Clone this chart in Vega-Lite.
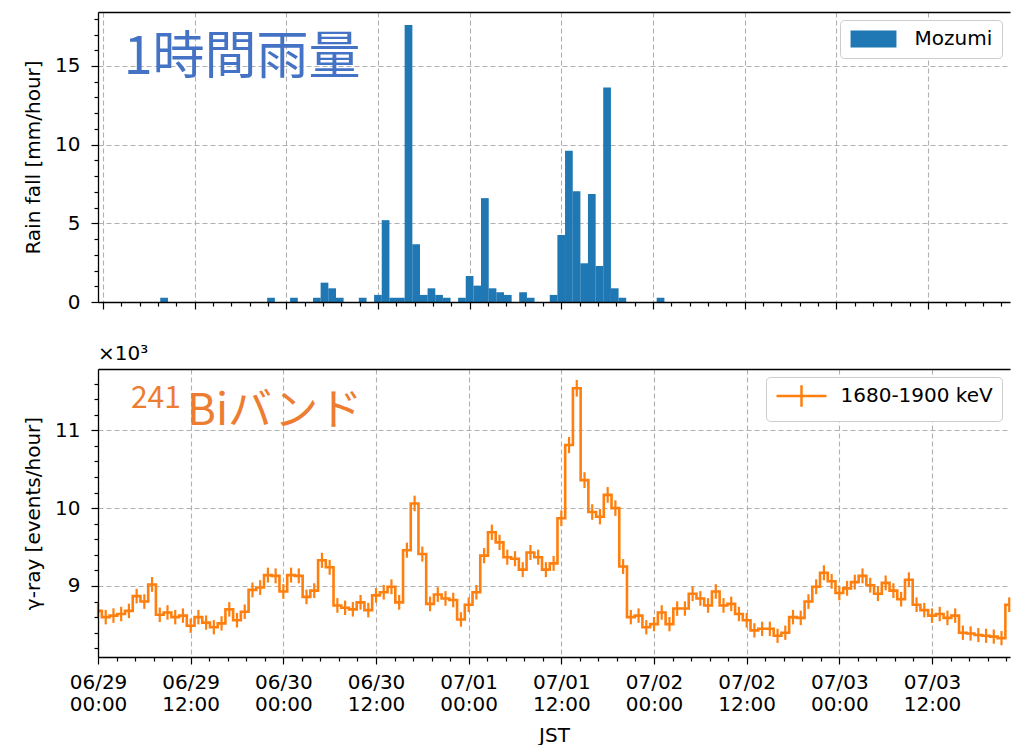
{
  "$schema": "https://vega.github.io/schema/vega-lite/v6.json",
  "background": "white",
  "padding": {"left": 23, "top": 12, "right": 0, "bottom": 0},
  "bounds": "flush",
  "spacing": 67,
  "config": {
    "font": "DejaVu Sans",
    "view": {"stroke": null},
    "axis": {
      "labelFont": "DejaVu Sans", "labelFontSize": 20, "labelColor": "#000000",
      "titleFont": "DejaVu Sans", "titleFontSize": 20, "titleFontWeight": "normal", "titleColor": "#000000",
      "domainColor": "#000000", "domainWidth": 1.3, "tickColor": "#000000", "tickWidth": 1.2, "tickSize": 7,
      "gridColor": "#b0b0b0", "gridDash": [5, 3], "gridWidth": 1.1,
      "labelFlush": false, "labelOverlap": false
    }
  },
  "resolve": {"scale": {"color": "independent"}, "legend": {"color": "independent"}},
  "datasets": {
    "rain": [
      {"time": "2018-06-29T08:00:00Z", "rain": 0.27},
      {"time": "2018-06-29T22:00:00Z", "rain": 0.27},
      {"time": "2018-06-30T01:00:00Z", "rain": 0.27},
      {"time": "2018-06-30T04:00:00Z", "rain": 0.27},
      {"time": "2018-06-30T05:00:00Z", "rain": 1.23},
      {"time": "2018-06-30T06:00:00Z", "rain": 0.87},
      {"time": "2018-06-30T07:00:00Z", "rain": 0.27},
      {"time": "2018-06-30T10:00:00Z", "rain": 0.27},
      {"time": "2018-06-30T12:00:00Z", "rain": 0.45},
      {"time": "2018-06-30T13:00:00Z", "rain": 5.2},
      {"time": "2018-06-30T14:00:00Z", "rain": 0.27},
      {"time": "2018-06-30T15:00:00Z", "rain": 0.27},
      {"time": "2018-06-30T16:00:00Z", "rain": 17.6},
      {"time": "2018-06-30T17:00:00Z", "rain": 3.67},
      {"time": "2018-06-30T18:00:00Z", "rain": 0.45},
      {"time": "2018-06-30T19:00:00Z", "rain": 0.87},
      {"time": "2018-06-30T20:00:00Z", "rain": 0.45},
      {"time": "2018-06-30T21:00:00Z", "rain": 0.27},
      {"time": "2018-06-30T23:00:00Z", "rain": 0.27},
      {"time": "2018-07-01T00:00:00Z", "rain": 1.65},
      {"time": "2018-07-01T01:00:00Z", "rain": 1.04},
      {"time": "2018-07-01T02:00:00Z", "rain": 6.6},
      {"time": "2018-07-01T03:00:00Z", "rain": 0.87},
      {"time": "2018-07-01T04:00:00Z", "rain": 0.62},
      {"time": "2018-07-01T05:00:00Z", "rain": 0.45},
      {"time": "2018-07-01T07:00:00Z", "rain": 0.62},
      {"time": "2018-07-01T08:00:00Z", "rain": 0.27},
      {"time": "2018-07-01T11:00:00Z", "rain": 0.45},
      {"time": "2018-07-01T12:00:00Z", "rain": 4.26},
      {"time": "2018-07-01T13:00:00Z", "rain": 9.62},
      {"time": "2018-07-01T14:00:00Z", "rain": 7.04},
      {"time": "2018-07-01T15:00:00Z", "rain": 2.46},
      {"time": "2018-07-01T16:00:00Z", "rain": 6.87},
      {"time": "2018-07-01T17:00:00Z", "rain": 2.29},
      {"time": "2018-07-01T18:00:00Z", "rain": 13.63},
      {"time": "2018-07-01T19:00:00Z", "rain": 0.87},
      {"time": "2018-07-01T20:00:00Z", "rain": 0.27},
      {"time": "2018-07-02T01:00:00Z", "rain": 0.27}
    ],
    "gamma": [
      {"time": "2018-06-29T00:00:00Z", "rate": 8680, "err": 93},
      {"time": "2018-06-29T01:00:00Z", "rate": 8600, "err": 93},
      {"time": "2018-06-29T02:00:00Z", "rate": 8620, "err": 93},
      {"time": "2018-06-29T03:00:00Z", "rate": 8640, "err": 93},
      {"time": "2018-06-29T04:00:00Z", "rate": 8680, "err": 93},
      {"time": "2018-06-29T05:00:00Z", "rate": 8870, "err": 94},
      {"time": "2018-06-29T06:00:00Z", "rate": 8800, "err": 94},
      {"time": "2018-06-29T07:00:00Z", "rate": 9020, "err": 95},
      {"time": "2018-06-29T08:00:00Z", "rate": 8630, "err": 93},
      {"time": "2018-06-29T09:00:00Z", "rate": 8660, "err": 93},
      {"time": "2018-06-29T10:00:00Z", "rate": 8600, "err": 93},
      {"time": "2018-06-29T11:00:00Z", "rate": 8620, "err": 93},
      {"time": "2018-06-29T12:00:00Z", "rate": 8490, "err": 92},
      {"time": "2018-06-29T13:00:00Z", "rate": 8600, "err": 93},
      {"time": "2018-06-29T14:00:00Z", "rate": 8530, "err": 92},
      {"time": "2018-06-29T15:00:00Z", "rate": 8470, "err": 92},
      {"time": "2018-06-29T16:00:00Z", "rate": 8520, "err": 92},
      {"time": "2018-06-29T17:00:00Z", "rate": 8700, "err": 93},
      {"time": "2018-06-29T18:00:00Z", "rate": 8560, "err": 93},
      {"time": "2018-06-29T19:00:00Z", "rate": 8670, "err": 93},
      {"time": "2018-06-29T20:00:00Z", "rate": 8950, "err": 95},
      {"time": "2018-06-29T21:00:00Z", "rate": 8980, "err": 95},
      {"time": "2018-06-29T22:00:00Z", "rate": 9140, "err": 96},
      {"time": "2018-06-29T23:00:00Z", "rate": 9130, "err": 96},
      {"time": "2018-06-30T00:00:00Z", "rate": 8930, "err": 94},
      {"time": "2018-06-30T01:00:00Z", "rate": 9140, "err": 96},
      {"time": "2018-06-30T02:00:00Z", "rate": 9130, "err": 96},
      {"time": "2018-06-30T03:00:00Z", "rate": 8860, "err": 94},
      {"time": "2018-06-30T04:00:00Z", "rate": 8940, "err": 95},
      {"time": "2018-06-30T05:00:00Z", "rate": 9330, "err": 97},
      {"time": "2018-06-30T06:00:00Z", "rate": 9240, "err": 96},
      {"time": "2018-06-30T07:00:00Z", "rate": 8750, "err": 94},
      {"time": "2018-06-30T08:00:00Z", "rate": 8720, "err": 93},
      {"time": "2018-06-30T09:00:00Z", "rate": 8700, "err": 93},
      {"time": "2018-06-30T10:00:00Z", "rate": 8790, "err": 94},
      {"time": "2018-06-30T11:00:00Z", "rate": 8690, "err": 93},
      {"time": "2018-06-30T12:00:00Z", "rate": 8880, "err": 94},
      {"time": "2018-06-30T13:00:00Z", "rate": 8920, "err": 94},
      {"time": "2018-06-30T14:00:00Z", "rate": 8990, "err": 95},
      {"time": "2018-06-30T15:00:00Z", "rate": 8790, "err": 94},
      {"time": "2018-06-30T16:00:00Z", "rate": 9460, "err": 97},
      {"time": "2018-06-30T17:00:00Z", "rate": 10060, "err": 100},
      {"time": "2018-06-30T18:00:00Z", "rate": 9410, "err": 97},
      {"time": "2018-06-30T19:00:00Z", "rate": 8770, "err": 94},
      {"time": "2018-06-30T20:00:00Z", "rate": 8890, "err": 94},
      {"time": "2018-06-30T21:00:00Z", "rate": 8840, "err": 94},
      {"time": "2018-06-30T22:00:00Z", "rate": 8820, "err": 94},
      {"time": "2018-06-30T23:00:00Z", "rate": 8570, "err": 93},
      {"time": "2018-07-01T00:00:00Z", "rate": 8760, "err": 94},
      {"time": "2018-07-01T01:00:00Z", "rate": 8920, "err": 94},
      {"time": "2018-07-01T02:00:00Z", "rate": 9390, "err": 97},
      {"time": "2018-07-01T03:00:00Z", "rate": 9690, "err": 98},
      {"time": "2018-07-01T04:00:00Z", "rate": 9560, "err": 98},
      {"time": "2018-07-01T05:00:00Z", "rate": 9370, "err": 97},
      {"time": "2018-07-01T06:00:00Z", "rate": 9350, "err": 97},
      {"time": "2018-07-01T07:00:00Z", "rate": 9210, "err": 96},
      {"time": "2018-07-01T08:00:00Z", "rate": 9430, "err": 97},
      {"time": "2018-07-01T09:00:00Z", "rate": 9370, "err": 97},
      {"time": "2018-07-01T10:00:00Z", "rate": 9210, "err": 96},
      {"time": "2018-07-01T11:00:00Z", "rate": 9290, "err": 96},
      {"time": "2018-07-01T12:00:00Z", "rate": 9870, "err": 99},
      {"time": "2018-07-01T13:00:00Z", "rate": 10810, "err": 104},
      {"time": "2018-07-01T14:00:00Z", "rate": 11540, "err": 107},
      {"time": "2018-07-01T15:00:00Z", "rate": 10360, "err": 102},
      {"time": "2018-07-01T16:00:00Z", "rate": 9950, "err": 100},
      {"time": "2018-07-01T17:00:00Z", "rate": 9890, "err": 99},
      {"time": "2018-07-01T18:00:00Z", "rate": 10170, "err": 101},
      {"time": "2018-07-01T19:00:00Z", "rate": 10000, "err": 100},
      {"time": "2018-07-01T20:00:00Z", "rate": 9250, "err": 96},
      {"time": "2018-07-01T21:00:00Z", "rate": 8600, "err": 93},
      {"time": "2018-07-01T22:00:00Z", "rate": 8620, "err": 93},
      {"time": "2018-07-01T23:00:00Z", "rate": 8470, "err": 92},
      {"time": "2018-07-02T00:00:00Z", "rate": 8510, "err": 92},
      {"time": "2018-07-02T01:00:00Z", "rate": 8660, "err": 93},
      {"time": "2018-07-02T02:00:00Z", "rate": 8510, "err": 92},
      {"time": "2018-07-02T03:00:00Z", "rate": 8710, "err": 93},
      {"time": "2018-07-02T04:00:00Z", "rate": 8710, "err": 93},
      {"time": "2018-07-02T05:00:00Z", "rate": 8900, "err": 94},
      {"time": "2018-07-02T06:00:00Z", "rate": 8840, "err": 94},
      {"time": "2018-07-02T07:00:00Z", "rate": 8750, "err": 94},
      {"time": "2018-07-02T08:00:00Z", "rate": 8930, "err": 94},
      {"time": "2018-07-02T09:00:00Z", "rate": 8750, "err": 94},
      {"time": "2018-07-02T10:00:00Z", "rate": 8770, "err": 94},
      {"time": "2018-07-02T11:00:00Z", "rate": 8640, "err": 93},
      {"time": "2018-07-02T12:00:00Z", "rate": 8560, "err": 93},
      {"time": "2018-07-02T13:00:00Z", "rate": 8430, "err": 92},
      {"time": "2018-07-02T14:00:00Z", "rate": 8450, "err": 92},
      {"time": "2018-07-02T15:00:00Z", "rate": 8450, "err": 92},
      {"time": "2018-07-02T16:00:00Z", "rate": 8360, "err": 91},
      {"time": "2018-07-02T17:00:00Z", "rate": 8400, "err": 92},
      {"time": "2018-07-02T18:00:00Z", "rate": 8600, "err": 93},
      {"time": "2018-07-02T19:00:00Z", "rate": 8590, "err": 93},
      {"time": "2018-07-02T20:00:00Z", "rate": 8800, "err": 94},
      {"time": "2018-07-02T21:00:00Z", "rate": 8990, "err": 95},
      {"time": "2018-07-02T22:00:00Z", "rate": 9170, "err": 96},
      {"time": "2018-07-02T23:00:00Z", "rate": 9060, "err": 95},
      {"time": "2018-07-03T00:00:00Z", "rate": 8910, "err": 94},
      {"time": "2018-07-03T01:00:00Z", "rate": 8970, "err": 95},
      {"time": "2018-07-03T02:00:00Z", "rate": 9050, "err": 95},
      {"time": "2018-07-03T03:00:00Z", "rate": 9130, "err": 96},
      {"time": "2018-07-03T04:00:00Z", "rate": 9010, "err": 95},
      {"time": "2018-07-03T05:00:00Z", "rate": 8900, "err": 94},
      {"time": "2018-07-03T06:00:00Z", "rate": 9040, "err": 95},
      {"time": "2018-07-03T07:00:00Z", "rate": 8940, "err": 95},
      {"time": "2018-07-03T08:00:00Z", "rate": 8830, "err": 94},
      {"time": "2018-07-03T09:00:00Z", "rate": 9080, "err": 95},
      {"time": "2018-07-03T10:00:00Z", "rate": 8760, "err": 94},
      {"time": "2018-07-03T11:00:00Z", "rate": 8690, "err": 93},
      {"time": "2018-07-03T12:00:00Z", "rate": 8620, "err": 93},
      {"time": "2018-07-03T13:00:00Z", "rate": 8640, "err": 93},
      {"time": "2018-07-03T14:00:00Z", "rate": 8590, "err": 93},
      {"time": "2018-07-03T15:00:00Z", "rate": 8620, "err": 93},
      {"time": "2018-07-03T16:00:00Z", "rate": 8400, "err": 92},
      {"time": "2018-07-03T17:00:00Z", "rate": 8390, "err": 92},
      {"time": "2018-07-03T18:00:00Z", "rate": 8370, "err": 91},
      {"time": "2018-07-03T19:00:00Z", "rate": 8360, "err": 91},
      {"time": "2018-07-03T20:00:00Z", "rate": 8350, "err": 91},
      {"time": "2018-07-03T21:00:00Z", "rate": 8330, "err": 91},
      {"time": "2018-07-03T22:00:00Z", "rate": 8760, "err": 94}
    ]
  },
  "vconcat": [
    {
      "width": 912,
      "height": 290,
      "resolve": {"axis": {"x": "independent", "y": "independent"}},
      "layer": [
        {
          "data": {"name": "rain"},
          "mark": {"type": "bar", "width": 7.72, "clip": true},
          "encoding": {
            "x": {"field": "time", "type": "temporal",
              "scale": {"type": "utc", "domain": [{"year": 2018, "month": 6, "date": 29, "hours": 0, "utc": true}, {"year": 2018, "month": 7, "date": 3, "hours": 22, "minutes": 6, "utc": true}]},
              "axis": {"orient": "bottom", "values": [1530230400000, 1530273600000, 1530316800000, 1530360000000, 1530403200000, 1530446400000, 1530489600000, 1530532800000, 1530576000000, 1530619200000], "labels": false, "title": null, "grid": true, "domain": false, "tickSize": 7}},
            "y": {"field": "rain", "type": "quantitative",
              "scale": {"domain": [0, 18.43], "nice": false, "zero": false},
              "axis": {"orient": "left", "values": [0, 5, 10, 15], "title": "Rain fall [mm/hour]", "grid": true, "domain": false, "tickSize": 7, "labelPadding": 11, "titlePadding": 12, "minExtent": 43, "maxExtent": 43}},
            "color": {"datum": "Mozumi", "type": "nominal", "scale": {"range": ["#1f77b4"]},
              "legend": {"title": null, "orient": "top-right", "offset": 8, "padding": 9, "fillColor": "white", "strokeColor": "#cccccc", "cornerRadius": 4, "labelFont": "DejaVu Sans", "labelFontSize": 20, "labelColor": "#000000", "symbolType": "M-2.7,-1H2.7V1H-2.7Z", "symbolSize": 289, "symbolStrokeWidth": 0, "symbolOffset": 14.5, "labelOffset": 31}}
          }
        },
        {
          "data": {"values": [{}]},
          "mark": {"type": "text", "text": "1時間雨量", "font": "Noto Sans CJK JP", "fontSize": 52, "color": "#4472C4", "align": "left", "baseline": "alphabetic"},
          "encoding": {
            "x": {"datum": {"year": 2018, "month": 6, "date": 29, "hours": 2, "minutes": 43, "utc": true}, "type": "temporal",
              "scale": {"type": "utc", "domain": [{"year": 2018, "month": 6, "date": 29, "hours": 0, "utc": true}, {"year": 2018, "month": 7, "date": 3, "hours": 22, "minutes": 6, "utc": true}]},
              "axis": {"orient": "bottom", "values": [1530239040000, 1530247680000, 1530256320000, 1530264960000, 1530282240000, 1530290880000, 1530299520000, 1530308160000, 1530325440000, 1530334080000, 1530342720000, 1530351360000, 1530368640000, 1530377280000, 1530385920000, 1530394560000, 1530411840000, 1530420480000, 1530429120000, 1530437760000, 1530455040000, 1530463680000, 1530472320000, 1530480960000, 1530498240000, 1530506880000, 1530515520000, 1530524160000, 1530541440000, 1530550080000, 1530558720000, 1530567360000, 1530584640000, 1530593280000, 1530601920000, 1530610560000, 1530627840000, 1530636480000, 1530645120000, 1530653760000], "tickSize": 4, "labels": false, "grid": false, "domain": true, "title": null, "zindex": 1}},
            "y": {"datum": 14.49, "type": "quantitative",
              "scale": {"domain": [0, 18.43], "nice": false, "zero": false},
              "axis": {"orient": "left", "values": [1, 2, 3, 4, 6, 7, 8, 9, 11, 12, 13, 14, 16, 17, 18], "tickSize": 4, "labels": false, "grid": false, "domain": true, "title": null, "zindex": 1}}
          }
        },
        {
          "data": {"values": [{}]},
          "mark": {"type": "rule", "opacity": 0},
          "encoding": {
            "x": {"datum": {"year": 2018, "month": 6, "date": 29, "hours": 0, "utc": true}, "type": "temporal",
              "scale": {"type": "utc", "domain": [{"year": 2018, "month": 6, "date": 29, "hours": 0, "utc": true}, {"year": 2018, "month": 7, "date": 3, "hours": 22, "minutes": 6, "utc": true}]},
              "axis": {"orient": "top", "ticks": false, "labels": false, "grid": false, "domain": true, "title": null, "zindex": 1}}
          }
        }
      ]
    },
    {
      "width": 912,
      "height": 288,
      "title": {"text": "×10³", "anchor": "start", "frame": "group", "fontSize": 20, "fontWeight": "normal", "font": "DejaVu Sans", "color": "#000000", "offset": 5},
      "resolve": {"axis": {"x": "independent", "y": "independent"}},
      "layer": [
        {
          "data": {"name": "gamma"},
          "mark": {"type": "line", "interpolate": "step", "strokeWidth": 2.6, "clip": true},
          "encoding": {
            "x": {"field": "time", "type": "temporal",
              "scale": {"type": "utc", "domain": [{"year": 2018, "month": 6, "date": 29, "hours": 0, "utc": true}, {"year": 2018, "month": 7, "date": 3, "hours": 22, "minutes": 6, "utc": true}]},
              "axis": {"orient": "bottom", "values": [1530230400000, 1530273600000, 1530316800000, 1530360000000, 1530403200000, 1530446400000, 1530489600000, 1530532800000, 1530576000000, 1530619200000], "labelExpr": "[utcFormat(datum.value, '%m/%d'), utcFormat(datum.value, '%H:%M')]", "labelLineHeight": 22, "labelPadding": 8, "title": "JST", "titlePadding": 11, "grid": true, "domain": false, "tickSize": 7}},
            "y": {"field": "rate", "type": "quantitative",
              "scale": {"domain": [8088, 11787], "nice": false, "zero": false},
              "axis": {"orient": "left", "values": [9000, 10000, 11000], "labelExpr": "format(datum.value / 1000, 'd')", "title": "γ-ray [events/hour]", "grid": true, "domain": false, "tickSize": 7, "labelPadding": 11, "titlePadding": 12, "minExtent": 43, "maxExtent": 43}},
            "color": {"datum": "1680-1900 keV", "type": "nominal", "scale": {"range": ["#ff7f0e"]},
              "legend": {"title": null, "orient": "top-right", "offset": 8, "padding": 9, "fillColor": "white", "strokeColor": "#cccccc", "cornerRadius": 4, "labelFont": "DejaVu Sans", "labelFontSize": 20, "labelColor": "#000000", "symbolType": "M-2.94,0H2.94M0,-1.27V1.27", "symbolSize": 289, "symbolStrokeWidth": 2.5, "symbolStrokeColor": "#ff7f0e", "symbolFillColor": "transparent", "symbolOffset": 16.5, "labelOffset": 29}}
          }
        },
        {
          "data": {"name": "gamma"},
          "mark": {"type": "errorbar", "ticks": false, "color": "#ff7f0e", "thickness": 2.2},
          "encoding": {
            "x": {"field": "time", "type": "temporal",
              "scale": {"type": "utc", "domain": [{"year": 2018, "month": 6, "date": 29, "hours": 0, "utc": true}, {"year": 2018, "month": 7, "date": 3, "hours": 22, "minutes": 6, "utc": true}]},
              "axis": null},
            "y": {"field": "rate", "type": "quantitative",
              "scale": {"domain": [8088, 11787], "nice": false, "zero": false},
              "axis": null},
            "yError": {"field": "err"}
          }
        },
        {
          "data": {"values": [{}]},
          "mark": {"type": "text", "text": "241", "font": "Noto Sans CJK JP", "fontSize": 30, "color": "#ED7D31", "align": "left", "baseline": "alphabetic"},
          "encoding": {
            "x": {"datum": {"year": 2018, "month": 6, "date": 29, "hours": 4, "minutes": 16, "utc": true}, "type": "temporal",
              "scale": {"type": "utc", "domain": [{"year": 2018, "month": 6, "date": 29, "hours": 0, "utc": true}, {"year": 2018, "month": 7, "date": 3, "hours": 22, "minutes": 6, "utc": true}]},
              "axis": {"orient": "bottom", "values": [1530239040000, 1530247680000, 1530256320000, 1530264960000, 1530282240000, 1530290880000, 1530299520000, 1530308160000, 1530325440000, 1530334080000, 1530342720000, 1530351360000, 1530368640000, 1530377280000, 1530385920000, 1530394560000, 1530411840000, 1530420480000, 1530429120000, 1530437760000, 1530455040000, 1530463680000, 1530472320000, 1530480960000, 1530498240000, 1530506880000, 1530515520000, 1530524160000, 1530541440000, 1530550080000, 1530558720000, 1530567360000, 1530584640000, 1530593280000, 1530601920000, 1530610560000, 1530627840000, 1530636480000, 1530645120000, 1530653760000], "tickSize": 4, "labels": false, "grid": false, "domain": true, "title": null, "zindex": 1}},
            "y": {"datum": 11286, "type": "quantitative",
              "scale": {"domain": [8088, 11787], "nice": false, "zero": false},
              "axis": {"orient": "left", "values": [8200, 8400, 8600, 8800, 9200, 9400, 9600, 9800, 10200, 10400, 10600, 10800, 11200, 11400, 11600], "tickSize": 4, "labels": false, "grid": false, "domain": true, "title": null, "zindex": 1}}
          }
        },
        {
          "data": {"values": [{}]},
          "mark": {"type": "text", "text": "Biバンド", "font": "Noto Sans CJK JP", "fontSize": 44, "color": "#ED7D31", "align": "left", "baseline": "alphabetic"},
          "encoding": {
            "x": {"datum": {"year": 2018, "month": 6, "date": 29, "hours": 11, "minutes": 32, "utc": true}, "type": "temporal",
              "scale": {"type": "utc", "domain": [{"year": 2018, "month": 6, "date": 29, "hours": 0, "utc": true}, {"year": 2018, "month": 7, "date": 3, "hours": 22, "minutes": 6, "utc": true}]},
              "axis": {"orient": "top", "ticks": false, "labels": false, "grid": false, "domain": true, "title": null, "zindex": 1}},
            "y": {"datum": 11068, "type": "quantitative",
              "scale": {"domain": [8088, 11787], "nice": false, "zero": false},
              "axis": null}
          }
        }
      ]
    }
  ]
}
